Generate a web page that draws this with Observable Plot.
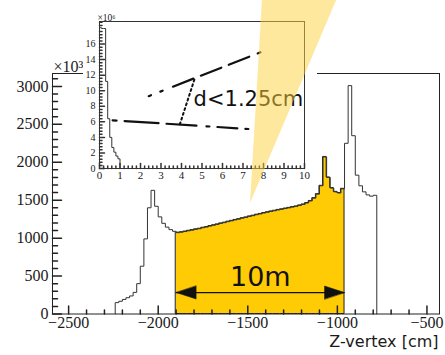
<!DOCTYPE html>
<html><head><meta charset="utf-8">
<script src="https://cdn.jsdelivr.net/npm/d3@7"></script>
<script src="https://cdn.jsdelivr.net/npm/@observablehq/plot@0.6"></script>
<style>
body{margin:0;background:#fff;}
#wrap{position:relative;width:445px;height:355px;overflow:hidden;background:#fff;}
#wrap > svg{position:absolute;}
</style></head><body><div id="wrap"></div>
<script>
// ---------- data ----------
const mainBinStart = -2240;
const mainBinWidth = 20;
const mainCounts = [
  150, 168, 192, 215, 238, 285, 400, 630, 990, 1400,
  1630, 1420, 1280, 1195, 1145, 1112, 1090, 1072, 1078, 1087,
  1097, 1105, 1116, 1124, 1137, 1146, 1159, 1170, 1181, 1194,
  1204, 1217, 1228, 1240, 1250, 1263, 1273, 1286, 1296, 1309,
  1319, 1331, 1341, 1352, 1361, 1372, 1380, 1390, 1399, 1409,
  1418, 1431, 1444, 1463, 1490, 1527, 1580, 1690, 2070, 1800,
  1660, 1610, 1595, 1650, 2250, 3010, 2350, 1830, 1690, 1610,
  1570, 1553, 1565
];
const yellowRange = [-1900, -960];
const xTickLabels = [-2500, -2000, -1500, -1000, -500];
const yTickLabels = [0, 500, 1000, 1500, 2000, 2500, 3000];

const insetBinWidth = 0.1;
const insetCounts = [18.1, 18.0, 18.0, 11.2, 6.4, 4.0, 2.7, 2.1, 1.6, 1.24];
const insetXTicks = [0, 1, 2, 3, 4, 5, 6, 7, 8, 9, 10];
const insetYTicks = [0, 2, 4, 6, 8, 10, 12, 14, 16];

// sketch in the inset (inset units)
const upperTrack = [{x: 2.4, y: 9.3}, {x: 8.3, y: 15.4}];
const lowerTrack = [{x: 0.64, y: 6.2}, {x: 8.33, y: 4.9}];
const dcaLink = [{x: 3.92, y: 5.68}, {x: 4.65, y: 11.6}];
const dcaLabel = [{x: 4.59, y: 8.05, text: "d<1.25cm"}];

// annotations in main-plot units
const arrowY = 283;
const lengthLabel = [{x: (yellowRange[0] + yellowRange[1]) / 2, y: 372, text: "10m"}];
const beam = [{y: 1456, x1: -1485, x2: -1485}, {y: 4140, x1: -1418, x2: -1003}];

// ---------- helpers ----------
const tickShape = {draw(ctx, l) { ctx.moveTo(0, 0); ctx.lineTo(0, -l); }};
const headShape = {draw(ctx, l) { ctx.moveTo(0, -l); ctx.lineTo(-6.5, 0); ctx.lineTo(6.5, 0); ctx.closePath(); }};
const ink = "#1a1a1a";

const mainBins = mainCounts.map((v, i) => ({x: mainBinStart + i * mainBinWidth, y: v}));
const mainEnd = mainBinStart + mainCounts.length * mainBinWidth;
const histPts = [{x: mainBinStart, y: 0}, ...mainBins, {x: mainEnd, y: 0}];
const yellowBins = mainBins.filter(d => d.x >= yellowRange[0] && d.x < yellowRange[1]);
const yellowPts = [...yellowBins, {x: yellowRange[1], y: yellowBins[yellowBins.length - 1].y}];

const insetBins = insetCounts.map((v, i) => ({x: i * insetBinWidth, y: v}));
const insetPts = [{x: 0, y: 0}, ...insetBins, {x: insetCounts.length * insetBinWidth, y: 0}, {x: 10, y: 0}];

const W = 445, H = 355;
const M = {top: 73, right: 6, bottom: 41.5, left: 52};
const xDom = [-2590, -430], yDom = [0, 3170];
const serif = "Liberation Serif, Times New Roman, serif";
const sans = "DejaVu Sans, sans-serif";

const wrap = document.getElementById("wrap");

// ---------- main histogram ----------
const main = Plot.plot({
  width: W, height: H,
  marginTop: M.top, marginRight: M.right, marginBottom: M.bottom, marginLeft: M.left,
  x: {domain: xDom},
  y: {domain: yDom},
  style: {fontFamily: serif, fontSize: "16px", color: ink, background: "white", overflow: "visible"},
  marks: [
    Plot.areaY(yellowPts, {x: "x", y: "y", curve: "step-after", fill: "#ffcb05", stroke: "#222", strokeWidth: 1}),
    Plot.line(histPts, {x: "x", y: "y", curve: "step-after", stroke: "#333", strokeWidth: 1}),
    Plot.frame({stroke: "#222"}),
    Plot.vectorY(yTickLabels, {frameAnchor: "left", rotate: 90, length: 9, anchor: "start", shape: tickShape, stroke: "#222"}),
    Plot.vectorY(d3.range(100, 3170, 100).filter(v => v % 500), {frameAnchor: "left", rotate: 90, length: 5, anchor: "start", shape: tickShape, stroke: "#222"}),
    Plot.vectorX(xTickLabels, {frameAnchor: "bottom", rotate: 0, length: 8, anchor: "start", shape: tickShape, stroke: "#222"}),
    Plot.vectorX(d3.range(-2500, -430, 100).filter(v => v % 500), {frameAnchor: "bottom", rotate: 0, length: 4, anchor: "start", shape: tickShape, stroke: "#222"}),
    Plot.axisX({ticks: xTickLabels, tickSize: 0, tickPadding: 2.5, tickFormat: d3.format("d"), label: null, fontSize: 16}),
    Plot.axisY({ticks: yTickLabels, tickSize: 0, tickPadding: 4, tickFormat: d3.format("d"), label: null, fontSize: 16}),
    Plot.text(["\u00d710\u00b3"], {frameAnchor: "top-left", textAnchor: "start", lineAnchor: "bottom", dx: 1, dy: -2, fontSize: 16}),
    Plot.text(["Z-vertex [cm]"], {frameAnchor: "bottom-right", textAnchor: "end", lineAnchor: "bottom", dx: -1, dy: 32.5, fontSize: 16, fontFamily: sans}),
    Plot.ruleY([arrowY], {x1: yellowRange[0], x2: yellowRange[1], stroke: "#111", strokeWidth: 1.3}),
    Plot.vector([{x: yellowRange[0], r: -90}, {x: yellowRange[1], r: 90}], {x: "x", y: () => arrowY, rotate: "r", length: 20, anchor: "end", shape: headShape, fill: "#111", stroke: "#111", strokeWidth: 0.5}),
    Plot.text(lengthLabel, {x: "x", y: "y", text: "text", lineAnchor: "bottom", fontSize: 27, fontFamily: sans, fill: "#111"})
  ]
});
main.style.left = "0px"; main.style.top = "0px";
wrap.appendChild(main);

// ---------- inset ----------
const IW = 234, IH = 188;
const inset = Plot.plot({
  width: IW, height: IH,
  marginTop: 21, marginRight: 13, marginBottom: 20, marginLeft: 16,
  x: {domain: [0, 10]},
  y: {domain: [0, 18.9]},
  style: {fontFamily: serif, fontSize: "11px", color: ink, background: "white", overflow: "visible"},
  marks: [
    Plot.line(insetPts, {x: "x", y: "y", curve: "step-after", stroke: "#333", strokeWidth: 1}),
    Plot.frame({stroke: "#333"}),
    Plot.vectorY(insetYTicks, {frameAnchor: "left", rotate: 90, length: 5, anchor: "start", shape: tickShape, stroke: "#333"}),
    Plot.vectorY(d3.range(0.4, 18.9, 0.4).filter(v => Math.abs(v / 2 - Math.round(v / 2)) > 0.01), {frameAnchor: "left", rotate: 90, length: 2.5, anchor: "start", shape: tickShape, stroke: "#333"}),
    Plot.vectorX(insetXTicks, {frameAnchor: "bottom", rotate: 0, length: 5, anchor: "start", shape: tickShape, stroke: "#333"}),
    Plot.vectorX(d3.range(0.2, 10, 0.2).filter(v => Math.abs(v - Math.round(v)) > 0.01), {frameAnchor: "bottom", rotate: 0, length: 2.5, anchor: "start", shape: tickShape, stroke: "#333"}),
    Plot.axisX({ticks: insetXTicks, tickSize: 0, tickPadding: 3, label: null, fontSize: 11}),
    Plot.axisY({ticks: insetYTicks, tickSize: 0, tickPadding: 4, label: null, fontSize: 10}),
    Plot.text(["\u00d710\u2076"], {frameAnchor: "top-left", textAnchor: "start", lineAnchor: "bottom", dx: -2, dy: -1, fontSize: 9.5}),
    Plot.line(upperTrack, {x: "x", y: "y", stroke: "#111", strokeWidth: 2.2, strokeDasharray: "2.5,10,2.5,11,22,8,22,8,22,9,3,40"}),
    Plot.line(lowerTrack, {x: "x", y: "y", stroke: "#111", strokeWidth: 2.2, strokeDasharray: "4,8,34,8,30,10,3,8,20,8,3,40"}),
    Plot.line(dcaLink, {x: "x", y: "y", stroke: "#111", strokeWidth: 2, strokeDasharray: "2,3"}),
    Plot.text(dcaLabel, {x: "x", y: "y", text: "text", textAnchor: "start", lineAnchor: "bottom", fontSize: 21, fontFamily: sans, fill: "#111"})
  ]
});
inset.style.left = "83px"; inset.style.top = "0px";
wrap.appendChild(inset);

// ---------- beam overlay ----------
const overlay = Plot.plot({
  width: W, height: H,
  marginTop: M.top, marginRight: M.right, marginBottom: M.bottom, marginLeft: M.left,
  x: {domain: xDom, axis: null},
  y: {domain: yDom, axis: null},
  style: {background: "transparent", overflow: "visible"},
  marks: [
    Plot.areaX(beam, {y: "y", x1: "x1", x2: "x2", fill: "#fdd23c", fillOpacity: 0.5})
  ]
});
overlay.style.left = "0px"; overlay.style.top = "0px"; overlay.style.pointerEvents = "none";
wrap.appendChild(overlay);
</script></body></html>
